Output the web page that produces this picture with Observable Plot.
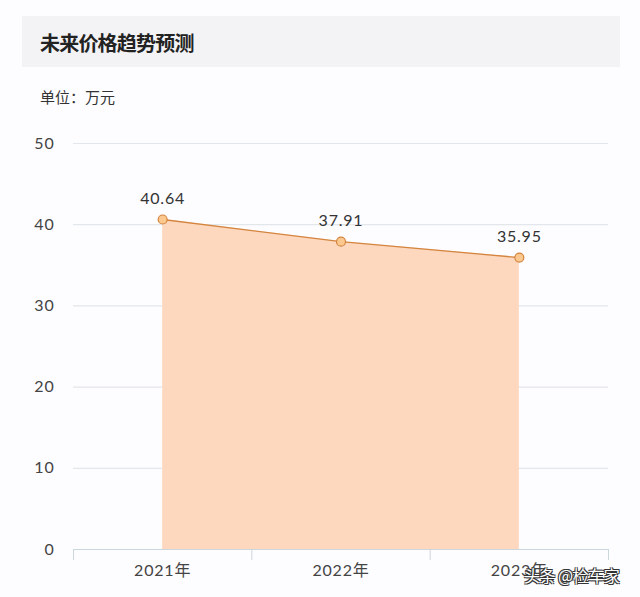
<!DOCTYPE html>
<html>
<head>
<meta charset="utf-8">
<script src="https://cdn.jsdelivr.net/npm/d3@7"></script>
<script src="https://cdn.jsdelivr.net/npm/@observablehq/plot@0.6"></script>
<style>
  html, body { margin: 0; padding: 0; background: #fdfcfe; width: 640px; height: 597px; overflow: hidden; position: relative; font-family: Lato, "Noto Sans CJK SC", sans-serif; }
  #title { position: absolute; left: 22px; top: 16px; width: 598px; height: 51px; background: #f3f3f5; }
  #title span { position: absolute; left: 18px; top: 12px; font-size: 20px; font-weight: bold; color: #222; font-family: "Noto Sans CJK SC", sans-serif; letter-spacing: -0.8px; }
  #unit { position: absolute; left: 40px; top: 86px; font-size: 15px; color: #333; font-family: "Noto Sans CJK SC", sans-serif; }
  #chart { position: absolute; left: 0; top: 120px; }
  #chart svg text { letter-spacing: 0.8px; }
  #wm { position: absolute; left: 524px; top: 563px; font-size: 16px; color: #fff; font-family: "Noto Sans CJK SC", sans-serif;
        text-shadow: -1px -1px 0 #333, 1px -1px 0 #333, -1px 1px 0 #333, 1px 1px 0 #333; letter-spacing: -0.5px; }
</style>
</head>
<body>
<div id="title"><span>未来价格趋势预测</span></div>
<div id="unit">单位：万元</div>
<div id="chart"></div>
<div id="wm">头条 @检车家</div>
<script>
const years = ["2021年", "2022年", "2023年"];
const prices = [40.64, 37.91, 35.95];
const yTicks = [0, 10, 20, 30, 40, 50];
const bandEdges = [-0.5, 0.5, 1.5, 2.5];

const data = years.map((year, i) => ({i, year, price: prices[i]}));

const chart = Plot.plot({
  width: 640,
  height: 477,
  marginLeft: 73,
  marginRight: 32,
  marginTop: 23,
  marginBottom: 48,
  style: {background: "transparent", fontFamily: 'Lato, "Noto Sans CJK SC", sans-serif', overflow: "visible"},
  x: {domain: [-0.5, 2.5], label: null},
  y: {domain: [0, 50], label: null},
  marks: [
    Plot.ruleY(yTicks.filter(d => d > 0), {stroke: "#e3e6ea", strokeWidth: 1.2}),
    Plot.areaY(data, {x: "i", y: "price", fill: "#fdd8bf", fillOpacity: 1}),
    Plot.ruleY([0], {stroke: "#ccd6dd", strokeWidth: 1.2}),
    Plot.axisX(bandEdges, {tickSize: 11, tickFormat: () => "", stroke: "#ccd6dd", label: null}),
    Plot.axisX([0, 1, 2], {tickSize: 0, tickPadding: 15, tickFormat: i => years[i], fontSize: 16, fill: "#444", label: null}),
    Plot.axisY(yTicks, {tickSize: 0, tickPadding: 19, fontSize: 16, fill: "#444", label: null}),
    Plot.line(data, {x: "i", y: "price", stroke: "#d4853f", strokeWidth: 1.3}),
    Plot.dot(data, {x: "i", y: "price", r: 4.5, fill: "#fbc88f", stroke: "#d4853f", strokeWidth: 1.2}),
    Plot.text(data, {x: "i", y: "price", text: d => d.price.toFixed(2), dy: -21, fontSize: 16, fill: "#333"})
  ]
});
document.getElementById("chart").appendChild(chart);
</script>
</body>
</html>
